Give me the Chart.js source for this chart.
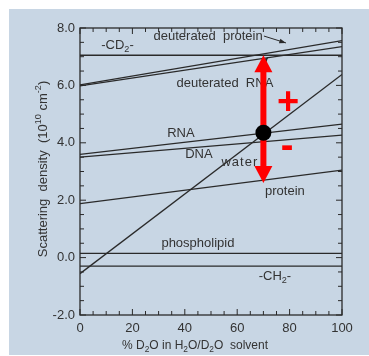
<!DOCTYPE html>
<html>
<head>
<meta charset="utf-8">
<script src="https://cdn.jsdelivr.net/npm/chart.js@4.4.0/dist/chart.umd.min.js"></script>
<style>
  html, body { margin: 0; padding: 0; background: #fff; }
  #wrap { width: 369px; height: 356px; }
  canvas { display: block; }
</style>
</head>
<body>
<div id="wrap"><canvas id="sld"></canvas></div>
<script>
// data: scattering density (10^10 cm^-2) vs % D2O
const pctD2O = [0, 100];
const cd2 = [7.05, 7.05];
const deutProtein = [6.02, 7.56];
const deutRNA = [5.98, 7.35];
const rna = [3.6, 4.65];
const dna = [3.5, 4.27];
const water = [-0.56, 6.38];
const protein = [1.88, 3.05];
const phospholipid = [0.15, 0.15];
const ch2 = [-0.3, -0.3];

// red contrast arrow at 70 % D2O
const markerX = [70];
const markerY = [4.35];
const arrowEnds = [2.6, 7.05];

const ink = '#2a2a2a';
const paper = 'rgb(200, 214, 228)';
const red = '#ff0000';
const fontFam = "'Liberation Sans', Arial, Helvetica, sans-serif";

Chart.defaults.font.family = fontFam;
Chart.defaults.color = '#333';

const series = [cd2, deutProtein, deutRNA, rna, dna, water, protein, phospholipid, ch2];
const datasets = series.map(ys => ({
    data: pctD2O.map((x, i) => ({ x: x, y: ys[i] })),
    borderColor: ink,
    borderWidth: 1.3,
    pointRadius: 0,
    tension: 0,
    fill: false
}));

// text labels: [parts, x, y, letter spacing]
const labels = [
    [[{ t: 'deuterated  protein' }], 48.9, 7.69, 0],
    [[{ t: '-CD' }, { t: '2', sub: true }, { t: '-' }], 14.3, 7.41, 0],
    [[{ t: 'deuterated  RNA' }], 55.3, 6.08, 0],
    [[{ t: 'RNA' }], 38.5, 4.31, 0],
    [[{ t: 'DNA' }], 45.4, 3.58, 0],
    [[{ t: 'water' }], 61, 3.30, 1],
    [[{ t: 'protein' }], 78.2, 2.29, 0],
    [[{ t: 'phospholipid' }], 45, 0.51, 0],
    [[{ t: '-CH' }, { t: '2', sub: true }, { t: '-' }], 74.4, -0.64, 0]
];
// pointer arrows: [x0, y0, x1, y1]
const pointers = [
    [70.2, 7.72, 78.6, 7.48],
    [68, 6.54, 71.8, 6.99]
];

function richText(ctx, parts, x, y, size, rot, spacing) {
    ctx.save();
    ctx.letterSpacing = (spacing || 0) + 'px';
    let w = 0;
    parts.forEach(p => {
        ctx.font = `${p.sub || p.sup ? size * 0.7 : size}px ${fontFam}`;
        p.w = ctx.measureText(p.t).width;
        w += p.w;
    });
    ctx.translate(x, y);
    if (rot) ctx.rotate(rot);
    ctx.textBaseline = 'middle';
    ctx.textAlign = 'left';
    let cx = -w / 2;
    parts.forEach(p => {
        ctx.font = `${p.sub || p.sup ? size * 0.7 : size}px ${fontFam}`;
        let dy = p.sub ? size * 0.32 : (p.sup ? -size * 0.38 : 0);
        ctx.fillText(p.t, cx, dy);
        cx += p.w;
    });
    ctx.restore();
}

function smallArrow(ctx, x0, y0, x1, y1) {
    const a = Math.atan2(y1 - y0, x1 - x0);
    ctx.beginPath();
    ctx.moveTo(x0, y0);
    ctx.lineTo(x1, y1);
    ctx.stroke();
    ctx.beginPath();
    ctx.moveTo(x1, y1);
    ctx.lineTo(x1 - 7 * Math.cos(a - 0.35), y1 - 7 * Math.sin(a - 0.35));
    ctx.lineTo(x1 - 7 * Math.cos(a + 0.35), y1 - 7 * Math.sin(a + 0.35));
    ctx.closePath();
    ctx.fill();
}

const decor = {
    id: 'decor',
    beforeDraw(chart) {
        const { ctx, width, height } = chart;
        ctx.save();
        ctx.fillStyle = '#fff';
        ctx.fillRect(0, 0, width, height);
        ctx.fillStyle = paper;
        ctx.fillRect(9, 9, width - 9, height - 10);
        ctx.restore();
    },
    beforeDatasetsDraw(chart) {
        const { ctx, chartArea: { top, bottom, left, right }, scales: { x, y } } = chart;
        ctx.save();
        ctx.strokeStyle = ink;
        ctx.lineWidth = 1.3;
        ctx.strokeRect(left, top, right - left, bottom - top);
        ctx.lineWidth = 1;
        ctx.beginPath();
        for (let v = 0; v <= 100; v += 5) {
            const px = x.getPixelForValue(v);
            const len = v % 20 === 0 ? 6 : 4;
            ctx.moveTo(px, bottom); ctx.lineTo(px, bottom - len);
            ctx.moveTo(px, top); ctx.lineTo(px, top + len);
        }
        for (let v = -2; v <= 8; v += 0.5) {
            const py = y.getPixelForValue(v);
            const len = v % 2 === 0 ? 6 : 4;
            ctx.moveTo(left, py); ctx.lineTo(left + len, py);
            ctx.moveTo(right, py); ctx.lineTo(right - len, py);
        }
        ctx.stroke();
        ctx.restore();
    },
    afterDatasetsDraw(chart) {
        const { ctx, scales: { x, y } } = chart;
        ctx.save();
        ctx.fillStyle = '#333';
        labels.forEach(([parts, lx, ly, sp]) => {
            richText(ctx, parts, x.getPixelForValue(lx), y.getPixelForValue(ly), 13, 0, sp);
        });
        ctx.strokeStyle = ink;
        ctx.fillStyle = ink;
        ctx.lineWidth = 1;
        pointers.forEach(([x0, y0, x1, y1]) => {
            smallArrow(ctx, x.getPixelForValue(x0), y.getPixelForValue(y0),
                x.getPixelForValue(x1), y.getPixelForValue(y1));
        });

        // axis titles
        ctx.fillStyle = '#333';
        richText(ctx, [{ t: 'Scattering  density  (10' }, { t: '10', sup: true }, { t: ' cm' }, { t: '-2', sup: true }, { t: ')' }],
            43, 169, 13, -Math.PI / 2);
        richText(ctx, [{ t: '% D' }, { t: '2', sub: true }, { t: 'O in H' }, { t: '2', sub: true }, { t: 'O/D' }, { t: '2', sub: true }, { t: 'O  solvent' }],
            195, 346, 12);

        // red arrow and marker
        const ax = x.getPixelForValue(markerX[0]);
        const yLo = y.getPixelForValue(arrowEnds[0]);
        const yHi = y.getPixelForValue(arrowEnds[1]);
        ctx.fillStyle = red;
        ctx.fillRect(ax - 3, yHi + 15, 6, yLo - yHi - 30);
        ctx.beginPath();
        ctx.moveTo(ax, yHi); ctx.lineTo(ax + 9, yHi + 17); ctx.lineTo(ax - 9, yHi + 17);
        ctx.closePath(); ctx.fill();
        ctx.beginPath();
        ctx.moveTo(ax, yLo); ctx.lineTo(ax + 9, yLo - 17); ctx.lineTo(ax - 9, yLo - 17);
        ctx.closePath(); ctx.fill();
        ctx.fillStyle = '#000';
        ctx.beginPath();
        ctx.arc(ax, y.getPixelForValue(markerY[0]), 8, 0, Math.PI * 2);
        ctx.fill();

        ctx.fillStyle = red;
        ctx.font = `bold 38px ${fontFam}`;
        ctx.textAlign = 'center';
        ctx.textBaseline = 'middle';
        ctx.fillText('+', x.getPixelForValue(79.4), y.getPixelForValue(5.32) - 1);
        ctx.fillText('-', x.getPixelForValue(79), y.getPixelForValue(3.75) - 2);
        ctx.restore();
    }
};

new Chart(document.getElementById('sld'), {
    type: 'line',
    data: { datasets: datasets },
    options: {
        responsive: true,
        maintainAspectRatio: false,
        animation: false,
        devicePixelRatio: 1,
        layout: { padding: { left: 0, top: 28, right: 27, bottom: 0 } },
        plugins: { legend: { display: false }, tooltip: { enabled: false } },
        scales: {
            x: {
                type: 'linear',
                min: 0,
                max: 100,
                ticks: { stepSize: 20, padding: 6, color: '#333', font: { size: 13 } },
                grid: { display: false, drawTicks: false },
                border: { display: false },
                afterFit(s) { s.height = 41; }
            },
            y: {
                type: 'linear',
                min: -2,
                max: 8,
                ticks: { stepSize: 2, padding: 5, color: '#333', font: { size: 13 }, callback: v => v.toFixed(1) },
                grid: { display: false, drawTicks: false },
                border: { display: false },
                afterFit(s) { s.width = 80; }
            }
        }
    },
    plugins: [decor]
});
</script>
</body>
</html>
